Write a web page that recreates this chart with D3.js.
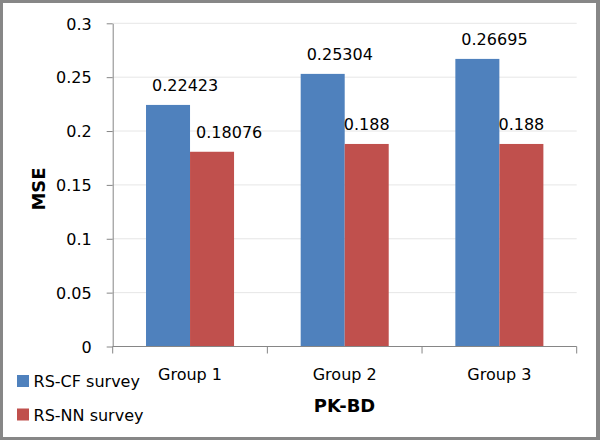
<!DOCTYPE html>
<html>
<head>
<meta charset="utf-8">
<script src="https://cdn.jsdelivr.net/npm/d3@7"></script>
<style>
  body { margin: 0; background: #fff; }
  text { font-family: "DejaVu Sans", sans-serif; fill: #000; }
</style>
</head>
<body>
<div id="chart"></div>
<script>
// data
var groups = ["Group 1", "Group 2", "Group 3"];
var seriesNames = ["RS-CF survey", "RS-NN survey"];
var cfValues = [0.22423, 0.25304, 0.26695];
var nnValues = [0.18076, 0.188, 0.188];
var yTicks = [0, 0.05, 0.1, 0.15, 0.2, 0.25, 0.3];
var colors = ["#4F81BD", "#C0504D"];

var W = 600, H = 440;
var plot = {left: 112.7, right: 576.7, top: 23.3, bottom: 346.5};

var svg = d3.select("#chart")
  .append("svg")
    .attr("width", W)
    .attr("height", H);

// pick a font size so a sample string is as wide as in the reference
function fitSize(str, target, weight) {
  var t = svg.append("text").style("font-size", "20px").style("font-weight", weight).text(str);
  var w = t.node().getComputedTextLength();
  t.remove();
  return (20 * target / w).toFixed(2) + "px";
}
var fs = fitSize("0.25", 35.7, "normal");
var fsBold = fitSize("MSE", 43, "bold");

// frame
svg.append("rect").attr("x", 0).attr("y", 0).attr("width", W).attr("height", H).style("fill", "#878787");
svg.append("rect").attr("x", 3).attr("y", 3).attr("width", 593).attr("height", 434).style("fill", "#fff");

var x = d3.scaleBand()
  .domain(groups)
  .range([plot.left, plot.right])
  .paddingInner(0)
  .paddingOuter(0);

var xs = d3.scaleBand()
  .domain(seriesNames)
  .range([0, x.bandwidth()])
  .paddingInner(0)
  .paddingOuter(0.757);

var y = d3.scaleLinear()
  .domain([0, 0.3])
  .range([plot.bottom, plot.top]);

// gridlines
svg.append("g")
  .selectAll("line")
  .data(yTicks.filter(function(d){ return d > 0; }))
  .enter()
  .append("line")
    .attr("x1", plot.left)
    .attr("x2", plot.right)
    .attr("y1", function(d){ return y(d); })
    .attr("y2", function(d){ return y(d); })
    .style("stroke", "#E6E6E6")
    .style("stroke-width", 1);

// Y axis
var yAxis = svg.append("g")
  .attr("transform", "translate(" + plot.left + ",0)")
  .call(d3.axisLeft(y)
    .tickValues(yTicks)
    .tickSize(6)
    .tickPadding(15)
    .tickSizeOuter(0)
    .tickFormat(function(d){ return String(+d.toFixed(2)); }));
yAxis.select(".domain").style("stroke", "#868686");
yAxis.selectAll(".tick line").style("stroke", "#868686");
yAxis.selectAll(".tick text").style("font-size", fs).attr("dy", "0.36em");

// bars
var rows = groups.map(function(g, i){
  return [{g: g, s: seriesNames[0], v: cfValues[i], c: colors[0]},
          {g: g, s: seriesNames[1], v: nnValues[i], c: colors[1]}];
});
var flat = d3.merge(rows);

svg.append("g")
  .selectAll("rect")
  .data(flat)
  .enter()
  .append("rect")
    .attr("x", function(d){ return x(d.g) + xs(d.s); })
    .attr("y", function(d){ return y(d.v); })
    .attr("width", xs.bandwidth())
    .attr("height", function(d){ return y(0) - y(d.v); })
    .style("fill", function(d){ return d.c; });

// data labels
svg.append("g")
  .selectAll("text")
  .data(flat)
  .enter()
  .append("text")
    .attr("x", function(d){ return x(d.g) + xs(d.s) + xs.bandwidth() / 2; })
    .attr("y", function(d){ return y(d.v) - 14; })
    .attr("text-anchor", "middle")
    .style("font-size", fs)
    .text(function(d){ return String(d.v); })
    .each(function(d){
      // push wide labels off the neighbouring bar
      var w = this.getComputedTextLength();
      if (w > xs.bandwidth() + 8) {
        d3.select(this)
          .attr("text-anchor", "start")
          .attr("x", x(d.g) + xs(d.s) + 6);
      }
    });

// X axis
var xAxis = svg.append("g")
  .attr("transform", "translate(0," + plot.bottom + ")")
  .call(d3.axisBottom(x).tickSize(0).tickPadding(22));
xAxis.select(".domain").remove();
xAxis.selectAll(".tick text").style("font-size", fs).attr("dy", 0).attr("y", 33.5);
xAxis.append("line")
  .attr("x1", plot.left).attr("x2", plot.right)
  .style("stroke", "#868686");
xAxis.selectAll(".bound")
  .data(groups.map(function(g){ return x(g); }).concat([x(groups[groups.length - 1]) + x.bandwidth()]))
  .enter()
  .append("line")
    .attr("class", "bound")
    .attr("x1", function(d){ return d; })
    .attr("x2", function(d){ return d; })
    .attr("y1", 0)
    .attr("y2", 7)
    .style("stroke", "#868686");

// axis names
svg.append("text")
  .attr("transform", "translate(45,189) rotate(-90)")
  .attr("text-anchor", "middle")
  .style("font-size", fsBold)
  .style("font-weight", "bold")
  .text("MSE");

svg.append("text")
  .attr("x", 344.5)
  .attr("y", 412)
  .attr("text-anchor", "middle")
  .style("font-size", fsBold)
  .style("font-weight", "bold")
  .text("PK-BD");

// legend
var legend = svg.append("g")
  .selectAll("g")
  .data(seriesNames)
  .enter()
  .append("g")
    .attr("transform", function(d, i){ return "translate(17," + (375 + i * 33.5) + ")"; });
legend.append("rect")
  .attr("width", 12).attr("height", 12)
  .style("fill", function(d, i){ return colors[i]; });
legend.append("text")
  .attr("x", 16.5)
  .attr("y", 12)
  .style("font-size", fs)
  .text(function(d){ return d; });
</script>
</body>
</html>
